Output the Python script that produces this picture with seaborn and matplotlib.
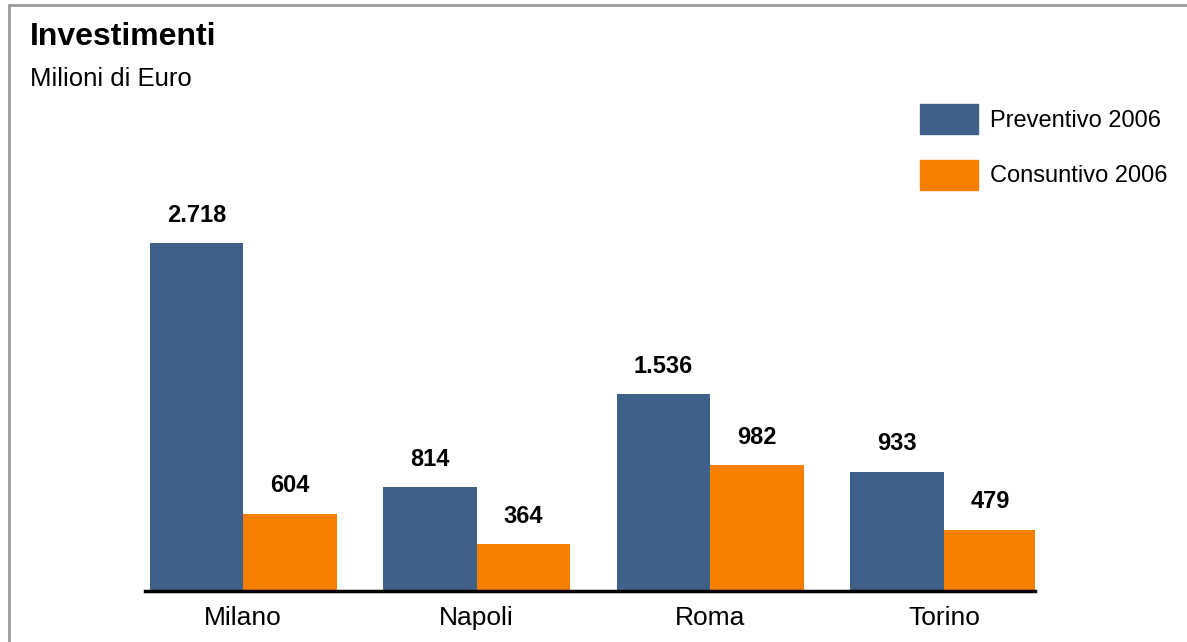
import pandas as pd
import numpy as np
import seaborn as sns
import matplotlib.pyplot as plt
from matplotlib.patches import Rectangle

# data
cities = ['Milano', 'Napoli', 'Roma', 'Torino']
preventivo = [2718, 814, 1536, 933]
consuntivo = [604, 364, 982, 479]
series = ['Preventivo 2006', 'Consuntivo 2006']
colors = ['#3F6189', '#F77F00']

df = pd.DataFrame({
    'citta': cities * 2,
    'valore': preventivo + consuntivo,
    'serie': [series[0]] * len(cities) + [series[1]] * len(cities),
})

sns.set_style('white')
plt.rcParams['font.family'] = ['Liberation Sans', 'DejaVu Sans']
plt.rcParams['text.color'] = 'black'
plt.rcParams['xtick.color'] = 'black'

fig = plt.figure(figsize=(11.87, 6.42), dpi=100)
ax = fig.add_axes([145 / 1187, 1 - 591 / 642, 890 / 1187, 384 / 642])

sns.barplot(data=df, x='citta', y='valore', hue='serie', palette=colors,
            saturation=1, width=0.8, linewidth=0, ax=ax, legend=False)

ax.set_ylim(0, 3000)
ax.set_xlim(-0.42, 3.39)

# value labels, italian thousands separator
for cont in ax.containers:
    for bar in cont:
        h = bar.get_height()
        txt = f'{int(h):,}'.replace(',', '.')
        ax.annotate(txt, (bar.get_x() + bar.get_width() / 2, h),
                    xytext=(0, 20), textcoords='offset points',
                    ha='center', va='center', fontsize=17, fontweight='bold',
                    color='black')

sns.despine(ax=ax, left=True)
ax.spines['bottom'].set_linewidth(2.5)
ax.spines['bottom'].set_color('black')
ax.set_yticks([])
ax.set_xlabel('')
ax.set_ylabel('')
ax.tick_params(axis='x', length=0, pad=11, labelsize=19, labelcolor='black')

# legend
handles = [Rectangle((0, 0), 1, 1, color=c) for c in colors]
fig.legend(handles, series, loc='upper left', bbox_to_anchor=(920 / 1187, 1 - 104 / 642),
           frameon=False, fontsize=17, handlelength=2.46, handleheight=1.61,
           labelspacing=1.06, handletextpad=0.5, borderaxespad=0, borderpad=0,
           labelcolor='black')

# title and subtitle
fig.text(30 / 1187, 1 - 37 / 642, 'Investimenti', fontsize=23, fontweight='bold',
         va='center', color='black')
fig.text(30 / 1187, 1 - 79 / 642, 'Milioni di Euro', fontsize=18.5, va='center',
         color='black')

# grey frame
fig.patches.append(Rectangle((9 / 1187, -0.05), 1.1, 1 - 5 / 642 + 0.05,
                             transform=fig.transFigure, fill=False,
                             edgecolor='#9a9a9a', linewidth=2, zorder=0))

fig.savefig('out.png', dpi=100)
